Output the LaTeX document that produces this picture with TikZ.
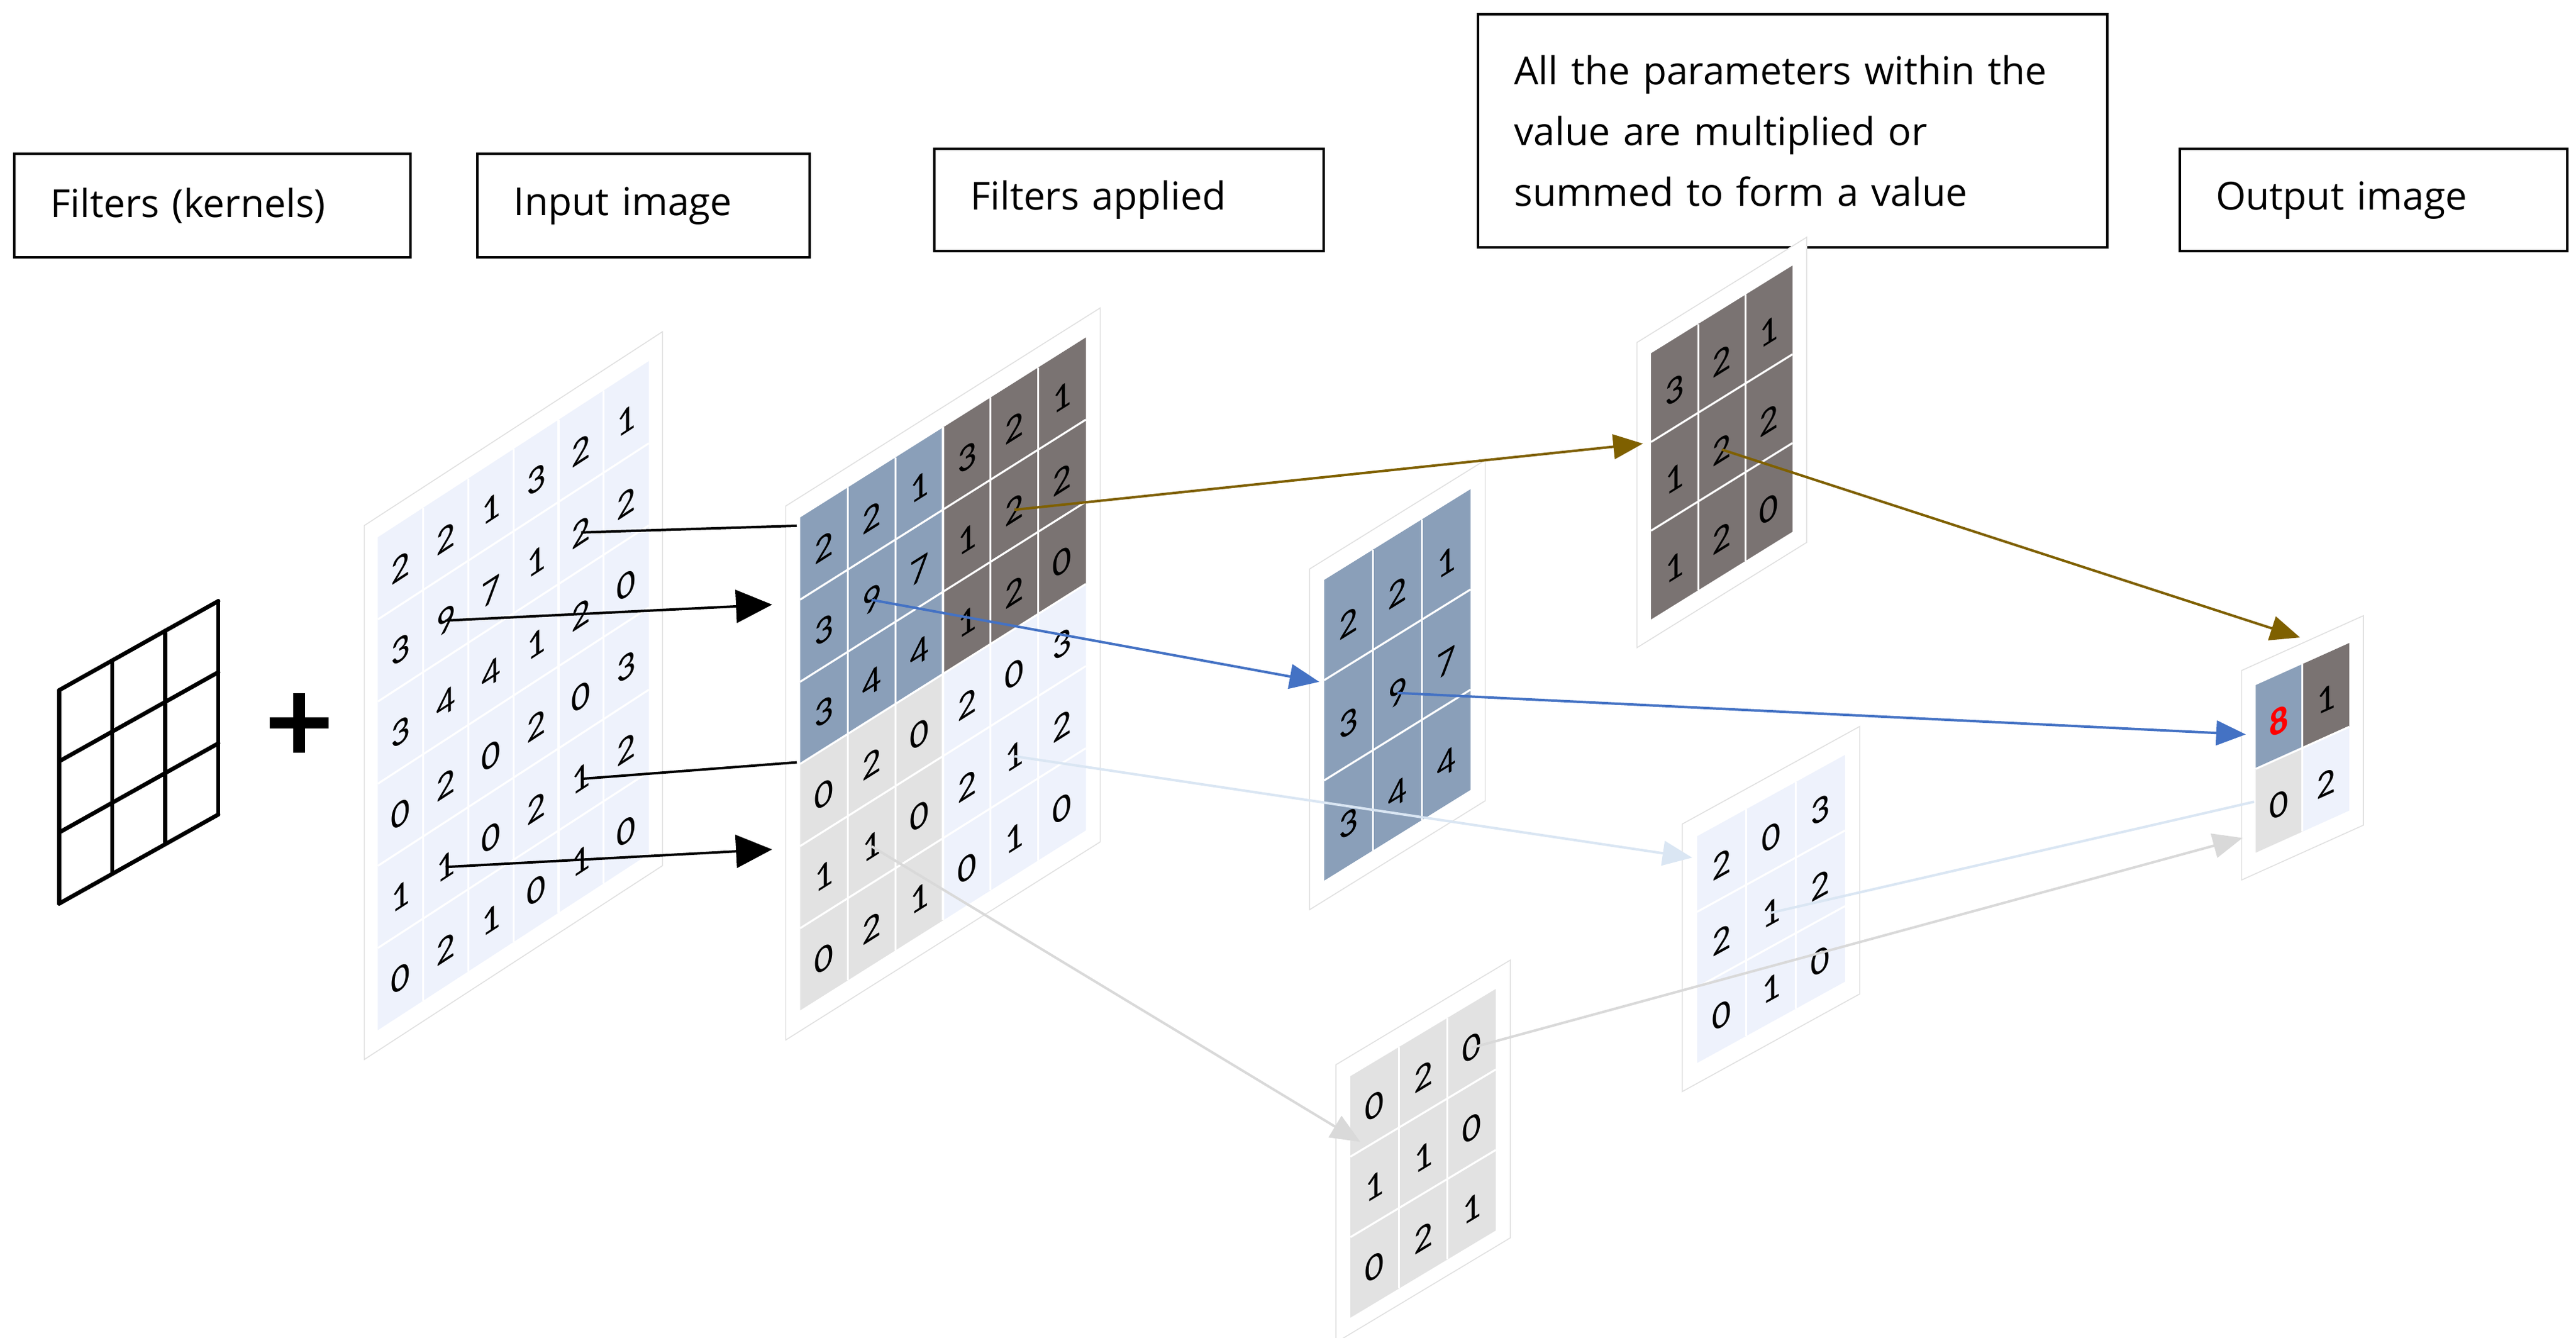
\documentclass[tikz,border=0pt]{standalone}
\usepackage{fontspec}
\setmainfont{Carlito}
\newfontfamily\labelfont{Open Sans}
\usetikzlibrary{arrows.meta}
\definecolor{cblue}{HTML}{8A9FB9}
\definecolor{cdark}{HTML}{7A7372}
\definecolor{cgray}{HTML}{E2E2E2}
\definecolor{clb}{HTML}{EEF2FC}
\definecolor{abrown}{HTML}{7F6000}
\definecolor{ablue}{HTML}{4472C4}
\definecolor{alb}{HTML}{DAE6F3}
\definecolor{agray}{HTML}{D9D9D9}
\begin{document}
\begin{tikzpicture}[x=1pt,y=-1pt,
  dig/.style={font=\fontsize{23}{23}\selectfont, transform shape, inner sep=0pt},
  lbl/.style={draw, line width=1.5pt, anchor=north west, align=left, inner xsep=22pt,
     font=\labelfont\fontsize{23.5}{37}\selectfont},
  frame/.style={draw=black!12, fill=white, line width=0.6pt},
  wl/.style={white, line width=1.2pt},
  conn/.style={line width=1.5pt},
  big/.style={-{Triangle[length=22pt,width=20pt]}},
  med/.style={-{Triangle[length=18pt,width=15pt]}}]
\useasboundingbox (0,0) rectangle (1568,814);

% label boxes
\node[lbl, minimum width=241pt, minimum height=63pt, text width=197pt] (b1) at (8,93) {Filters (kernels)};
\node[lbl, minimum width=202pt, minimum height=63pt, text width=158pt] (b2) at (290,93) {Input image};
\node[lbl, minimum width=237pt, minimum height=62pt, text width=193pt] (b3) at (568,90) {Filters applied};
\node[lbl, minimum width=383pt, minimum height=142pt, text width=339pt] (b4) at (899,8) {All the parameters within the\\ value are multiplied or\\ summed to form a value};
\node[lbl, minimum width=236pt, minimum height=62pt, text width=192pt] (b5) at (1326,90) {Output image};

% kernel icon
\begin{scope}[shift={(36,550)}, yslant=0.56, x=32.3pt, y=43.3pt]
  \foreach \i in {0,1,2,3} {
    \draw[line width=2.5pt, line cap=round] (\i,0) -- (\i,3);
    \draw[line width=2.5pt, line cap=round] (0,\i) -- (3,\i);
  }
\end{scope}
% plus
\coordinate (plus) at (182,440);
\draw[line width=7pt] ([xshift=-18pt]plus) -- ([xshift=18pt]plus);
\draw[line width=7pt] ([yshift=-18pt]plus) -- ([yshift=18pt]plus);

% input image
\begin{scope}[shift={(230,627)}, yslant=0.65, x=27.5pt, y=50pt]
  \draw[frame] (-0.3,-0.25) rectangle (6.3,6.25);
  \fill[clb] (0,0) rectangle (6,6);
  \foreach \i in {1,...,5} {\draw[wl] (\i,0) -- (\i,6); \draw[wl] (0,\i) -- (6,\i);}
  \foreach \r/\row in {1/{2,2,1,3,2,1},2/{3,9,7,1,2,2},3/{3,4,4,1,2,0},4/{0,2,0,2,0,3},5/{1,1,0,2,1,2},6/{0,2,1,0,1,0}}
    \foreach \v [count=\c] in \row {\node[dig] (inp-\r-\c) at (\c-0.5,6.45-\r) {\v};}
\end{scope}

% filters applied
\begin{scope}[shift={(487,615)}, yslant=0.63, x=29pt, y=50pt]
  \draw[frame] (-0.3,-0.25) rectangle (6.3,6.25);
  \fill[cgray] (0,0) rectangle (3,3);
  \fill[clb] (3,0) rectangle (6,3);
  \fill[cblue] (0,3) rectangle (3,6);
  \fill[cdark] (3,3) rectangle (6,6);
  \foreach \i in {1,...,5} {\draw[wl] (\i,0) -- (\i,6); \draw[wl] (0,\i) -- (6,\i);}
  \foreach \r/\row in {1/{2,2,1,3,2,1},2/{3,9,7,1,2,2},3/{3,4,4,1,2,0},4/{0,2,0,2,0,3},5/{1,1,0,2,1,2},6/{0,2,1,0,1,0}}
    \foreach \v [count=\c] in \row {\node[dig] (fa-\r-\c) at (\c-0.5,6.45-\r) {\v};}
\end{scope}

% blue small grid
\begin{scope}[shift={(806,536)}, yslant=0.62, x=29.7pt, y=61pt]
  \draw[frame] (-0.3,-0.2) rectangle (3.3,3.2);
  \fill[cblue] (0,0) rectangle (3,3);
  \foreach \i in {1,2} {\draw[wl] (\i,0) -- (\i,3); \draw[wl] (0,\i) -- (3,\i);}
  \foreach \r/\row in {1/{2,2,1},2/{3,9,7},3/{3,4,4}}
    \foreach \v [count=\c] in \row {\node[dig] (bl-\r-\c) at (\c-0.5,3.42-\r) {\v};}
\end{scope}

% dark small grid
\begin{scope}[shift={(1005,377)}, yslant=0.62, x=28.7pt, y=54pt]
  \draw[frame] (-0.3,-0.22) rectangle (3.3,3.22);
  \fill[cdark] (0,0) rectangle (3,3);
  \foreach \i in {1,2} {\draw[wl] (\i,0) -- (\i,3); \draw[wl] (0,\i) -- (3,\i);}
  \foreach \r/\row in {1/{3,2,1},2/{1,2,2},3/{1,2,0}}
    \foreach \v [count=\c] in \row {\node[dig] (dk-\r-\c) at (\c-0.5,3.42-\r) {\v};}
\end{scope}

% light blue small grid
\begin{scope}[shift={(1033,647)}, yslant=0.55, x=30pt, y=46pt]
  \draw[frame] (-0.3,-0.27) rectangle (3.3,3.27);
  \fill[clb] (0,0) rectangle (3,3);
  \foreach \i in {1,2} {\draw[wl] (\i,0) -- (\i,3); \draw[wl] (0,\i) -- (3,\i);}
  \foreach \r/\row in {1/{2,0,3},2/{2,1,2},3/{0,1,0}}
    \foreach \v [count=\c] in \row {\node[dig] (lb-\r-\c) at (\c-0.5,3.45-\r) {\v};}
\end{scope}

% gray small grid
\begin{scope}[shift={(822,802)}, yslant=0.6, x=29.5pt, y=49pt]
  \draw[frame] (-0.3,-0.2) rectangle (3.3,3.25);
  \fill[cgray] (0,0) rectangle (3,3);
  \foreach \i in {1,2} {\draw[wl] (\i,0) -- (\i,3); \draw[wl] (0,\i) -- (3,\i);}
  \foreach \r/\row in {1/{0,2,0},2/{1,1,0},3/{0,2,1}}
    \foreach \v [count=\c] in \row {\node[dig] (gr-\r-\c) at (\c-0.5,3.45-\r) {\v};}
\end{scope}

% output grid
\begin{scope}[shift={(1373,519)}, yslant=0.45, x=28.5pt, y=51pt]
  \draw[frame] (-0.3,-0.25) rectangle (2.3,2.25);
  \fill[cgray] (0,0) rectangle (1,1);
  \fill[clb] (1,0) rectangle (2,1);
  \fill[cblue] (0,1) rectangle (1,2);
  \fill[cdark] (1,1) rectangle (2,2);
  \draw[wl] (1,0) -- (1,2); \draw[wl] (0,1) -- (2,1);
  \node[dig, text=red, font=\fontsize{23}{23}\selectfont\bfseries] (out-1-1) at (0.5,1.45) {8};
  \node[dig] (out-1-2) at (1.5,1.45) {1};
  \node[dig] (out-2-1) at (0.5,0.45) {0};
  \node[dig] (out-2-2) at (1.5,0.45) {2};
\end{scope}

% connector end points
\coordinate (t1) at (485,320);
\coordinate (t2) at (470,368);
\coordinate (t3) at (485,464);
\coordinate (t4) at (470,517);
\coordinate (t5) at (1000,270);
\coordinate (t6) at (1400,388);
\coordinate (t7) at (803,415);
\coordinate (t8) at (1367,447);
\coordinate (t9) at (1030,522);
\coordinate (t10) at (1372,488);
\coordinate (t11) at (828,695);
\coordinate (t12) at (1365,510);

% connectors
\draw[conn] (inp-2-5.center) -- (t1);
\draw[conn, big] (inp-2-2.center) -- (t2);
\draw[conn] (inp-5-5.center) -- (t3);
\draw[conn, big] (inp-5-2.center) -- (t4);
\draw[conn, abrown, med] (fa-2-5.center) -- (t5);
\draw[conn, abrown, med] (dk-2-2.center) -- (t6);
\draw[conn, ablue, med] (fa-2-2.center) -- (t7);
\draw[conn, ablue, med] (bl-2-2.center) -- (t8);
\draw[conn, alb, med] (fa-5-5.center) -- (t9);
\draw[conn, alb] (lb-2-2.center) -- (t10);
\draw[conn, agray, med] (fa-5-2.center) -- (t11);
\draw[conn, agray, med] (gr-1-3.center) -- (t12);
\end{tikzpicture}
\end{document}
